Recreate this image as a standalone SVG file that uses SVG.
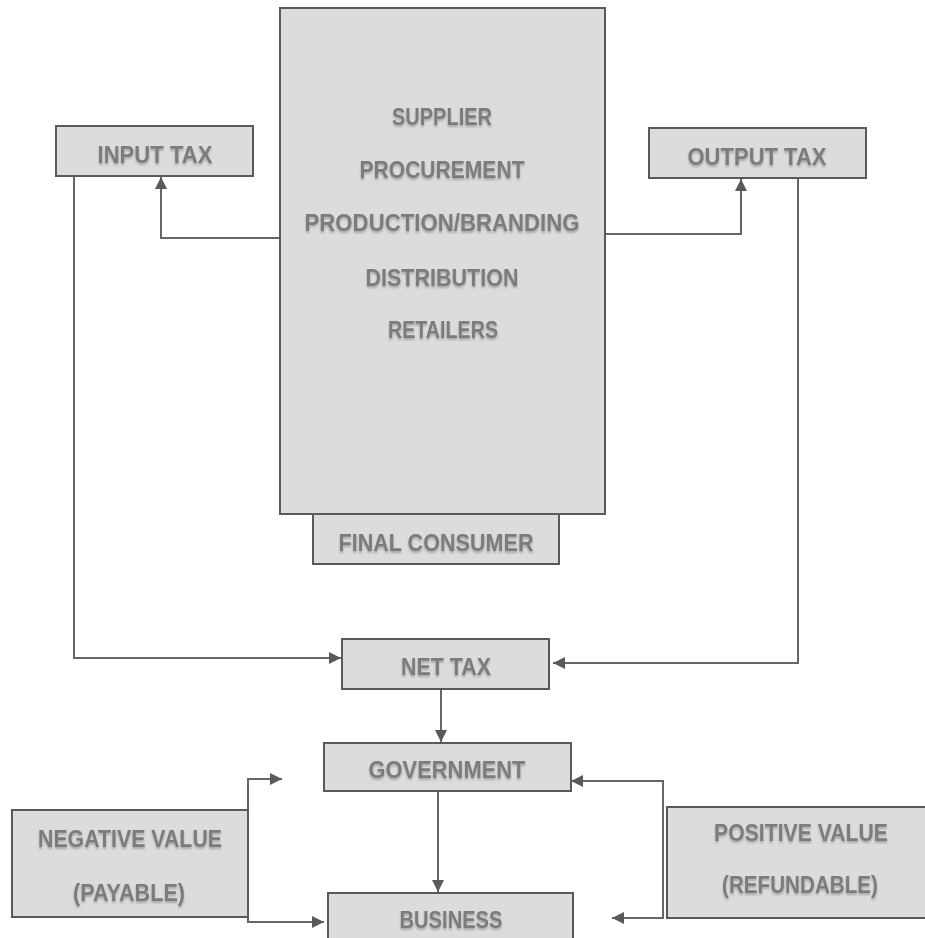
<svg xmlns="http://www.w3.org/2000/svg" width="925" height="938" viewBox="0 0 925 938">
  <defs>
    <marker id="arr" markerUnits="userSpaceOnUse" markerWidth="14" markerHeight="14" refX="12" refY="7" orient="auto">
      <path d="M0,1 L12,7 L0,13 z" fill="#5a5a5a"/>
    </marker>
    <filter id="sh" x="-5%" y="-30%" width="110%" height="180%">
      <feGaussianBlur in="SourceAlpha" stdDeviation="1.2"/>
      <feOffset dy="2" result="b"/>
      <feFlood flood-color="#000" flood-opacity="0.25"/>
      <feComposite in2="b" operator="in"/>
      <feMerge><feMergeNode/><feMergeNode in="SourceGraphic"/></feMerge>
    </filter>
  </defs>
  <style>
    .box { fill: #dcdcdc; stroke: #5a5a5a; stroke-width: 2; }
    .t { font-family: "Liberation Sans", Arial, sans-serif; font-size: 23px; font-weight: bold; fill: #7b7b7b; text-anchor: middle; filter: url(#sh); }
    .c { fill: none; stroke: #666; stroke-width: 2; }
  </style>
  <rect width="925" height="938" fill="#ffffff"/>

  <g id="connectors">
    <path class="c" d="M280,238 L161,238 L161,177" marker-end="url(#arr)"/>
    <path class="c" d="M605,234 L741,234 L741,179" marker-end="url(#arr)"/>
    <path class="c" d="M74,176 L74,658 L341,658" marker-end="url(#arr)"/>
    <path class="c" d="M798,178 L798,663 L553,663" marker-end="url(#arr)"/>
    <path class="c" d="M441,689 L441,742" marker-end="url(#arr)"/>
    <path class="c" d="M438,791 L438,892" marker-end="url(#arr)"/>
    <path class="c" d="M248,810 L248,779 L282,779" marker-end="url(#arr)"/>
    <path class="c" d="M248,917 L248,922 L324,922" marker-end="url(#arr)"/>
    <path class="c" d="M663,781 L571,781" marker-end="url(#arr)"/>
    <path class="c" d="M663,780 L663,918 L612,918" marker-end="url(#arr)"/>
  </g>

  <g id="main">
    <rect class="box" x="280" y="8" width="325" height="506"/>
    <text class="t" x="442" y="125" textLength="100" lengthAdjust="spacingAndGlyphs">SUPPLIER</text>
    <text class="t" x="442" y="178" textLength="165" lengthAdjust="spacingAndGlyphs">PROCUREMENT</text>
    <text class="t" x="442" y="231" textLength="275" lengthAdjust="spacingAndGlyphs">PRODUCTION/BRANDING</text>
    <text class="t" x="442" y="286" textLength="153" lengthAdjust="spacingAndGlyphs">DISTRIBUTION</text>
    <text class="t" x="443" y="338" textLength="110" lengthAdjust="spacingAndGlyphs">RETAILERS</text>
  </g>

  <g id="final-consumer">
    <rect class="box" x="313" y="514" width="246" height="50"/>
    <text class="t" x="436" y="551" textLength="195" lengthAdjust="spacingAndGlyphs">FINAL CONSUMER</text>
  </g>

  <g id="input-tax">
    <rect class="box" x="56" y="126" width="197" height="50"/>
    <text class="t" x="155" y="163" textLength="115" lengthAdjust="spacingAndGlyphs">INPUT TAX</text>
  </g>

  <g id="output-tax">
    <rect class="box" x="649" y="128" width="217" height="50"/>
    <text class="t" x="757" y="165" textLength="139" lengthAdjust="spacingAndGlyphs">OUTPUT TAX</text>
  </g>

  <g id="net-tax">
    <rect class="box" x="342" y="639" width="207" height="50"/>
    <text class="t" x="446" y="675" textLength="90" lengthAdjust="spacingAndGlyphs">NET TAX</text>
  </g>

  <g id="government">
    <rect class="box" x="324" y="743" width="247" height="48"/>
    <text class="t" x="447" y="778" textLength="157" lengthAdjust="spacingAndGlyphs">GOVERNMENT</text>
  </g>

  <g id="business">
    <rect class="box" x="328" y="893" width="245" height="52"/>
    <text class="t" x="451" y="928" textLength="103" lengthAdjust="spacingAndGlyphs">BUSINESS</text>
  </g>

  <g id="negative-value">
    <rect class="box" x="12" y="810" width="236" height="107"/>
    <text class="t" x="130" y="847" textLength="184" lengthAdjust="spacingAndGlyphs">NEGATIVE VALUE</text>
    <text class="t" x="129" y="901" textLength="112" lengthAdjust="spacingAndGlyphs">(PAYABLE)</text>
  </g>

  <g id="positive-value">
    <rect class="box" x="667" y="807" width="270" height="111"/>
    <text class="t" x="801" y="841" textLength="174" lengthAdjust="spacingAndGlyphs">POSITIVE VALUE</text>
    <text class="t" x="800" y="893" textLength="156" lengthAdjust="spacingAndGlyphs">(REFUNDABLE)</text>
  </g>
</svg>
